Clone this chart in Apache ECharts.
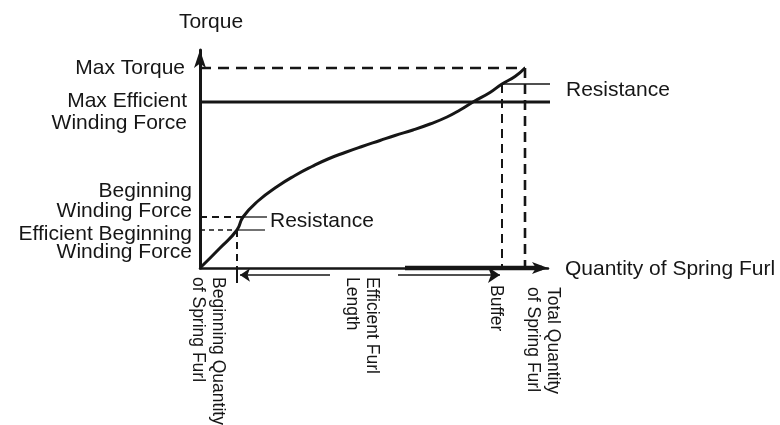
<!DOCTYPE html>
<html><head><meta charset="utf-8">
<script src="https://cdn.jsdelivr.net/npm/echarts@6/dist/echarts.min.js"></script>
<style>html,body{margin:0;background:#fff}#c{width:780px;height:425px}</style>
</head><body><div id="c"></div>
<script>
// Schematic: torque (y) against quantity of spring furl (x), arbitrary units
const curveFurl   = [0, 20, 37, 43, 58, 78, 95, 112, 128, 145, 162, 180, 195, 213, 230, 247, 260, 273, 290, 302, 315, 325];
const curveTorque = [0, 20, 38, 51, 67, 82, 92.5, 101.5, 109, 115.5, 121.5, 127.5, 132.5, 138, 144, 151, 158, 166, 175.5, 184, 191.5, 200];
// torque levels: max torque, upper resistance, max efficient, beginning, efficient beginning
const torqueLevels = [200, 184, 166, 51, 38];
// furl marks: beginning quantity, buffer start, total quantity
const furlMarks = [37, 302, 325];
// furl length arrow segments and thick axis part
const furlLengthLeft = [40, 130];
const furlLengthRight = [198, 300];
const thickAxisPart = [205, 342];
const axisMaxima = [348, 218];
const leftLabels = ['Max Torque', 'Max Efficient', 'Winding Force', 'Beginning', 'Winding Force', 'Efficient Beginning', 'Winding Force'];
const otherLabels = ['Torque', 'Resistance', 'Resistance', 'Quantity of Spring Furl'];
const rotatedLabels = ['Beginning Quantity\nof Spring Furl', 'Efficient Furl\nLength', 'Buffer', 'Total Quantity\nof Spring Furl'];

const [TMAX, TRES, TEFF, TBEG, TEBEG] = torqueLevels;
const [FBEG, FBUF, FTOT] = furlMarks;
const INK = '#161616';
const FONT = '"Liberation Sans", Arial, Helvetica, sans-serif';

function seg(points, width, type, extra) {
  return Object.assign({
    type: 'line', data: points, symbol: 'none', silent: true, clip: false,
    lineStyle: { color: INK, width: width, type: type || 'solid', cap: 'butt' }
  }, extra || {});
}

const chart = echarts.init(document.getElementById('c'), null, { renderer: 'canvas' });
const axisCommon = {
  type: 'value', min: 0, axisTick: { show: false }, axisLabel: { show: false }, splitLine: { show: false }
};
chart.setOption({
  animation: false,
  backgroundColor: '#fff',
  grid: { left: 200, right: 780 - 548, top: 50, bottom: 425 - 268, containLabel: false },
  xAxis: Object.assign({}, axisCommon, {
    max: axisMaxima[0],
    axisLine: { show: true, lineStyle: { color: INK, width: 2.5 }, symbol: ['none', 'arrow'], symbolSize: [9, 16] }
  }),
  yAxis: Object.assign({}, axisCommon, {
    max: axisMaxima[1],
    axisLine: { show: true, lineStyle: { color: INK, width: 3 }, symbol: ['none', 'arrow'], symbolSize: [9, 18] }
  }),
  series: [
    seg(curveFurl.map((f, i) => [f, curveTorque[i]]), 3, 'solid', { smooth: 0.5 }),
    seg([[0, TMAX], [FTOT, TMAX]], 2.5, [11, 7]),
    seg([[0, TEFF], [357, TEFF]], 2.8),
    seg([[FBUF, TRES], [358, TRES]], 1.3),
    seg([[FBUF, TRES], [FBUF, 0]], 2, [9, 6]),
    seg([[FTOT, TMAX], [FTOT, 0]], 2.6, [10, 6]),
    seg([[0, TBEG], [43, TBEG]], 1.8, [7, 5]),
    seg([[43, TBEG], [67, TBEG]], 1.3),
    seg([[0, TEBEG], [FBEG, TEBEG]], 1.3, [5, 4]),
    seg([[FBEG, TEBEG], [65, TEBEG]], 1.2),
    seg([[FBEG, TEBEG], [FBEG, 0]], 2, [7, 5]),
    seg([[FBEG, 0], [FBEG, -15]], 2),
    seg([[thickAxisPart[0], 0], [thickAxisPart[1], 0]], 4.5),
    {
      type: 'lines', coordinateSystem: 'cartesian2d', silent: true, clip: false,
      symbol: ['arrow', 'none'], symbolSize: [10, 13],
      lineStyle: { color: INK, width: 1.5, opacity: 1 },
      data: [{ coords: [[furlLengthLeft[0], -7], [furlLengthLeft[1], -7]] }]
    },
    {
      type: 'lines', coordinateSystem: 'cartesian2d', silent: true, clip: false,
      symbol: ['none', 'arrow'], symbolSize: [9, 12],
      lineStyle: { color: INK, width: 1.5, opacity: 1 },
      data: [{ coords: [[furlLengthRight[0], -7], [furlLengthRight[1], -7]] }]
    }
  ]
});

function px(x, y) { return chart.convertToPixel({ gridIndex: 0 }, [x, y]); }
const o = px(0, 0);
function yOf(t) { return px(0, t)[1]; }
function xOf(f) { return px(f, 0)[0]; }
function txt(text, x, y, align, size, extra) {
  return Object.assign({
    type: 'text', x: x, y: y, silent: true,
    style: { text: text, fill: INK, font: (size || 21) + 'px ' + FONT, align: align || 'left', verticalAlign: 'middle', lineHeight: 20 }
  }, extra || {});
}
function rot(text, x, y) {
  return {
    type: 'text', x: x, y: y, rotation: -Math.PI / 2, silent: true,
    style: { text: text, fill: INK, font: '17.5px ' + FONT, align: 'left', verticalAlign: 'top', lineHeight: 20 }
  };
}
const g = [
  txt(otherLabels[0], o[0] + 11, 22, 'center'),
  txt(leftLabels[0], o[0] - 15, yOf(TMAX), 'right'),
  txt(leftLabels[1], o[0] - 13, yOf(TEFF) - 1, 'right'),
  txt(leftLabels[2], o[0] - 13, yOf(TEFF) + 21, 'right'),
  txt(leftLabels[3], o[0] - 8, yOf(TBEG) - 26, 'right'),
  txt(leftLabels[4], o[0] - 8, yOf(TBEG) - 6, 'right'),
  txt(leftLabels[5], o[0] - 8, yOf(TEBEG) + 4, 'right'),
  txt(leftLabels[6], o[0] - 8, yOf(TEBEG) + 22, 'right'),
  txt(otherLabels[1], px(70, 0)[0], yOf(TBEG) + 4, 'left'),
  txt(otherLabels[2], px(366, 0)[0], yOf(TRES) + 6, 'left'),
  txt(otherLabels[3], px(365, 0)[0], o[1] + 1, 'left'),
  rot(rotatedLabels[0], xOf(FBEG) - 9, o[1] + 9),
  rot(rotatedLabels[1], xOf(182), o[1] + 9),
  rot(rotatedLabels[2], xOf(FBUF) + 4, o[1] + 17),
  rot(rotatedLabels[3], xOf(FTOT) + 38, o[1] + 19)
];
chart.setOption({ graphic: g });
</script>
</body></html>
